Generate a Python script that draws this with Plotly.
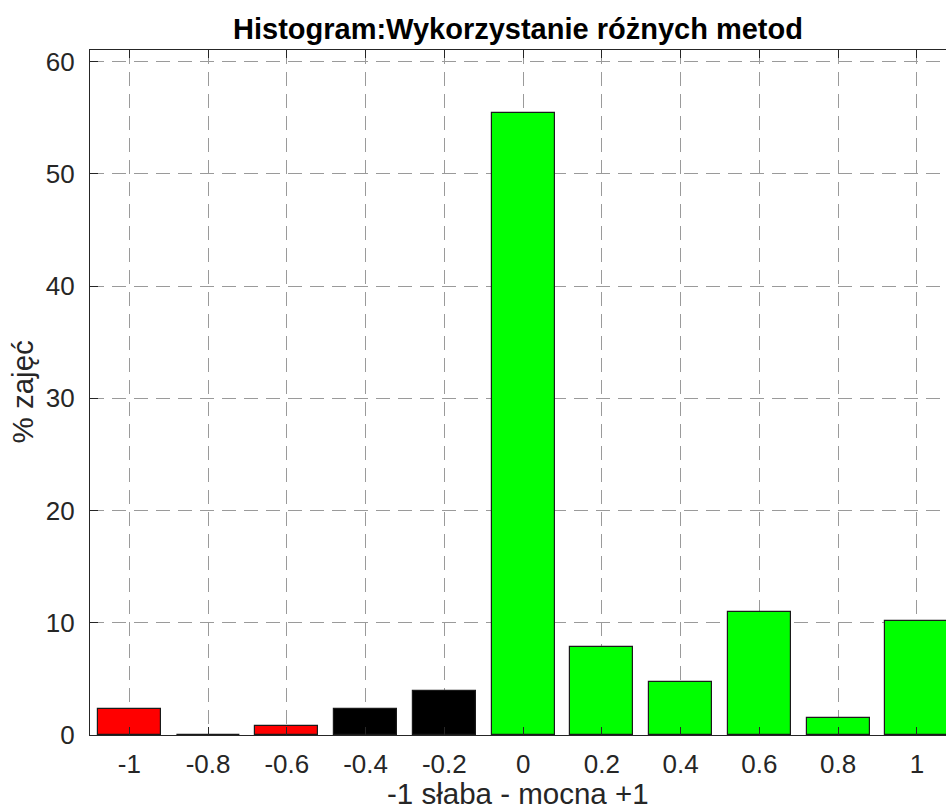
import plotly.graph_objects as go

categories = [-1, -0.8, -0.6, -0.4, -0.2, 0, 0.2, 0.4, 0.6, 0.8, 1]
percent = [2.34, 0, 0.78, 2.34, 3.91, 55.47, 7.81, 4.69, 10.94, 1.56, 10.16]
bar_colors = ["#ff0000", "#ff0000", "#ff0000", "#000000", "#000000",
              "#00ff00", "#00ff00", "#00ff00", "#00ff00", "#00ff00", "#00ff00"]
x_tick_vals = [-1, -0.8, -0.6, -0.4, -0.2, 0, 0.2, 0.4, 0.6, 0.8, 1]
x_tick_text = ["-1", "-0.8", "-0.6", "-0.4", "-0.2", "0", "0.2", "0.4", "0.6", "0.8", "1"]
y_tick_vals = [0, 10, 20, 30, 40, 50, 60]
title_text = "Histogram:Wykorzystanie różnych metod"
x_label = "-1 słaba - mocna +1"
y_label = "% zajęć"

FONT = "Liberation Sans, Arial, sans-serif"
INK = "#262626"

fig = go.Figure(go.Bar(
    x=categories, y=percent, width=0.16,
    marker=dict(color=bar_colors, line=dict(color="#1a1a1a", width=1.2)),
))

fig.update_layout(
    width=946, height=812,
    margin=dict(l=90, r=0, t=50, b=77),
    paper_bgcolor="white", plot_bgcolor="white",
    showlegend=False,
    font=dict(family=FONT, size=26, color=INK),
    title=dict(text="<b>" + title_text + "</b>",
               x=0.5, xref="paper", xanchor="center",
               y=1, yref="paper", yanchor="bottom", pad=dict(b=11),
               font=dict(family=FONT, size=29, color="#000000")),
    bargap=0,
    annotations=[
        dict(text=x_label, xref="paper", yref="paper", x=0.5, y=0,
             xanchor="center", yanchor="bottom", yshift=-76, borderpad=0,
             showarrow=False, font=dict(family=FONT, size=29.5, color=INK)),
        dict(text=y_label, xref="paper", yref="paper", x=0, y=0.5,
             xanchor="center", yanchor="middle", xshift=-68, textangle=-90,
             showarrow=False, font=dict(family=FONT, size=29.5, color=INK)),
    ],
)

fig.update_xaxes(
    range=[-1.1, 1.074], tickmode="array", tickvals=x_tick_vals, ticktext=x_tick_text,
    ticks="inside", ticklen=8, tickwidth=1.3, tickcolor=INK, ticklabelstandoff=6,
    showline=True, linecolor=INK, linewidth=1.3, mirror="allticks",
    showgrid=True, gridcolor="#9a9a9a", gridwidth=1, griddash="14px,8px",
    zeroline=False, automargin=False,
    tickfont=dict(size=26, color=INK),
)
fig.update_yaxes(
    range=[0, 61.05], tickmode="array", tickvals=y_tick_vals,
    ticks="inside", ticklen=8, tickwidth=1.3, tickcolor=INK, ticklabelstandoff=9,
    showline=True, linecolor=INK, linewidth=1.3, mirror=False,
    showgrid=True, gridcolor="#9a9a9a", gridwidth=1, griddash="14px,8px",
    zeroline=False, automargin=False,
    tickfont=dict(size=26, color=INK),
)

# remove the default 8px page margin so the figure fills the window exactly
fig.write_html("out.html", config={"displayModeBar": False},
               post_script="document.body.style.margin='0';")
